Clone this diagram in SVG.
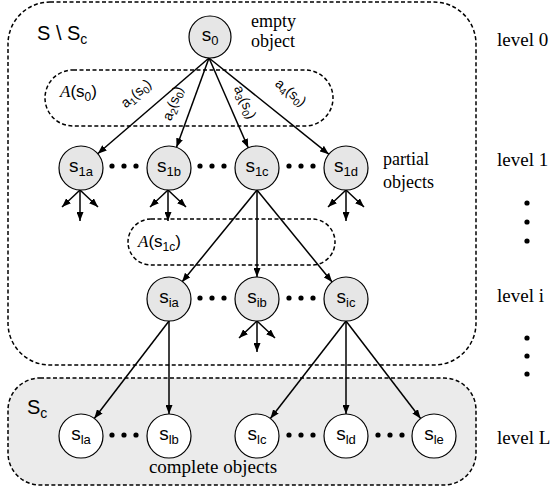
<svg xmlns="http://www.w3.org/2000/svg" width="551" height="490" viewBox="0 0 551 490">
<style>
.box{fill:none;stroke:#000;stroke-width:1.5;stroke-dasharray:4 2.5}
.node{stroke:#000;stroke-width:1.2}
.g{fill:#e6e6e6}
.w{fill:#fff}
.lbl{font-family:"Liberation Sans",Arial,sans-serif;font-size:19px;text-anchor:middle;fill:#000}
.sub{font-size:13px}
.lev{font-family:"Liberation Serif","Times New Roman",serif;font-size:19px;fill:#000}
.sans{font-family:"Liberation Sans",Arial,sans-serif;fill:#000}
.edge{stroke:#000;stroke-width:1.5;fill:none;marker-end:url(#ah)}
.dot{fill:#000}
</style>
<defs>
<marker id="ah" markerUnits="userSpaceOnUse" markerWidth="9" markerHeight="7" refX="9" refY="3.5" orient="auto">
<path d="M0,0 L9,3.5 L0,7 z" fill="#000"/>
</marker>
</defs>

<g id="region-S-minus-Sc">
<rect class="box" x="8" y="2" width="468" height="363" rx="42"/>
<text class="sans" x="37" y="40" font-size="20">S \ S<tspan font-size="14" dy="4">c</tspan></text>
</g>
<g id="region-Sc">
<rect class="box" x="8" y="378" width="468" height="107" rx="32" style="fill:#ebebeb"/>
<text class="sans" x="27" y="414" font-size="20">S<tspan font-size="14" dy="4">c</tspan></text>
<text class="lev" x="213" y="473" text-anchor="middle" style="font-size:19px">complete objects</text>
</g>
<g id="A-s0">
<rect class="box" x="45" y="70" width="288" height="56" rx="28"/>
<text class="sans" x="60" y="97" font-size="17"><tspan font-family="Liberation Serif,serif" font-style="italic">A</tspan>(s<tspan font-size="12" dy="4">0</tspan><tspan dy="-4">)</tspan></text>
</g>
<g id="A-s1c">
<rect class="box" x="128" y="219" width="207" height="46" rx="23"/>
<text class="sans" x="138" y="247" font-size="17"><tspan font-family="Liberation Serif,serif" font-style="italic">A</tspan>(s<tspan font-size="12" dy="4">1c</tspan><tspan dy="-4">)</tspan></text>
</g>

<g id="connectors">
<line class="edge" x1="209" y1="58" x2="97.7" y2="153.7"/>
<line class="edge" x1="209" y1="58" x2="176.5" y2="147.3"/>
<line class="edge" x1="209" y1="58" x2="248.2" y2="147.8"/>
<line class="edge" x1="209" y1="58" x2="328.8" y2="154.2"/>
<line class="edge" x1="257" y1="190" x2="182" y2="282"/>
<line class="edge" x1="257" y1="190" x2="257" y2="277"/>
<line class="edge" x1="257" y1="190" x2="332.1" y2="282"/>
<line class="edge" x1="169" y1="321" x2="94.3" y2="418.5"/>
<line class="edge" x1="169" y1="321" x2="169" y2="414"/>
<line class="edge" x1="346" y1="321" x2="270.4" y2="418.5"/>
<line class="edge" x1="346" y1="321" x2="346" y2="414"/>
<line class="edge" x1="346" y1="321" x2="420.6" y2="418.5"/>
<line class="edge" x1="80" y1="190" x2="62" y2="207"/>
<line class="edge" x1="80" y1="190" x2="80" y2="221"/>
<line class="edge" x1="80" y1="190" x2="98" y2="207"/>
<line class="edge" x1="168" y1="190" x2="150" y2="207"/>
<line class="edge" x1="168" y1="190" x2="168" y2="221"/>
<line class="edge" x1="168" y1="190" x2="186" y2="207"/>
<line class="edge" x1="346" y1="190" x2="328" y2="207"/>
<line class="edge" x1="346" y1="190" x2="346" y2="221"/>
<line class="edge" x1="346" y1="190" x2="364" y2="207"/>
<line class="edge" x1="257" y1="321" x2="239" y2="338"/>
<line class="edge" x1="257" y1="321" x2="257" y2="352"/>
<line class="edge" x1="257" y1="321" x2="275" y2="338"/>
<text class="sans" font-size="14" text-anchor="middle" transform="translate(139,97) rotate(-40.7)">a<tspan font-size="10" dy="3">1</tspan><tspan dy="-3">(s</tspan><tspan font-size="10" dy="3">0</tspan><tspan dy="-3">)</tspan></text>
<text class="sans" font-size="14" text-anchor="middle" transform="translate(177,105) rotate(-70)">a<tspan font-size="10" dy="3">2</tspan><tspan dy="-3">(s</tspan><tspan font-size="10" dy="3">0</tspan><tspan dy="-3">)</tspan></text>
<text class="sans" font-size="14" text-anchor="middle" transform="translate(241,104) rotate(66)">a<tspan font-size="10" dy="3">3</tspan><tspan dy="-3">(s</tspan><tspan font-size="10" dy="3">0</tspan><tspan dy="-3">)</tspan></text>
<text class="sans" font-size="14" text-anchor="middle" transform="translate(288,96) rotate(38.8)">a<tspan font-size="10" dy="3">4</tspan><tspan dy="-3">(s</tspan><tspan font-size="10" dy="3">0</tspan><tspan dy="-3">)</tspan></text>
</g>

<g id="s0"><circle class="node g" cx="210" cy="37" r="21"/><text class="lbl" x="210" y="41">s<tspan class="sub" dy="4">0</tspan></text>
<text class="lev" x="251" y="27" style="font-size:18px">empty</text><text class="lev" x="251" y="47" style="font-size:18px">object</text></g>

<g id="s1a"><circle class="node g" cx="81" cy="168" r="22"/><text class="lbl" x="81" y="172">s<tspan class="sub" dy="4">1a</tspan></text></g>
<g id="s1b"><circle class="node g" cx="169" cy="168" r="22"/><text class="lbl" x="169" y="172">s<tspan class="sub" dy="4">1b</tspan></text></g>
<g id="s1c"><circle class="node g" cx="257" cy="168" r="22"/><text class="lbl" x="257" y="172">s<tspan class="sub" dy="4">1c</tspan></text></g>
<g id="s1d"><circle class="node g" cx="346" cy="168" r="22"/><text class="lbl" x="346" y="172">s<tspan class="sub" dy="4">1d</tspan></text>
<text class="lev" x="383" y="165" style="font-size:18px">partial</text><text class="lev" x="383" y="188" style="font-size:18px">objects</text></g>

<g id="sia"><circle class="node g" cx="169" cy="299" r="22"/><text class="lbl" x="169" y="303">s<tspan class="sub" dy="4">ia</tspan></text></g>
<g id="sib"><circle class="node g" cx="257" cy="299" r="22"/><text class="lbl" x="257" y="303">s<tspan class="sub" dy="4">ib</tspan></text></g>
<g id="sic"><circle class="node g" cx="346" cy="299" r="22"/><text class="lbl" x="346" y="303">s<tspan class="sub" dy="4">ic</tspan></text></g>

<g id="sla"><circle class="node w" cx="81" cy="436" r="22"/><text class="lbl" x="81" y="440">s<tspan class="sub" dy="4">la</tspan></text></g>
<g id="slb"><circle class="node w" cx="169" cy="436" r="22"/><text class="lbl" x="169" y="440">s<tspan class="sub" dy="4">lb</tspan></text></g>
<g id="slc"><circle class="node w" cx="257" cy="436" r="22"/><text class="lbl" x="257" y="440">s<tspan class="sub" dy="4">lc</tspan></text></g>
<g id="sld"><circle class="node w" cx="346" cy="436" r="22"/><text class="lbl" x="346" y="440">s<tspan class="sub" dy="4">ld</tspan></text></g>
<g id="sle"><circle class="node w" cx="434" cy="436" r="22"/><text class="lbl" x="434" y="440">s<tspan class="sub" dy="4">le</tspan></text></g>

<g id="ellipses">
<circle class="dot" cx="112" cy="166" r="2.6"/><circle class="dot" cx="124" cy="166" r="2.6"/><circle class="dot" cx="136" cy="166" r="2.6"/>
<circle class="dot" cx="200" cy="166" r="2.6"/><circle class="dot" cx="212" cy="166" r="2.6"/><circle class="dot" cx="224" cy="166" r="2.6"/>
<circle class="dot" cx="289" cy="166" r="2.6"/><circle class="dot" cx="301" cy="166" r="2.6"/><circle class="dot" cx="313" cy="166" r="2.6"/>
<circle class="dot" cx="200" cy="298" r="2.6"/><circle class="dot" cx="212" cy="298" r="2.6"/><circle class="dot" cx="224" cy="298" r="2.6"/>
<circle class="dot" cx="289" cy="298" r="2.6"/><circle class="dot" cx="301" cy="298" r="2.6"/><circle class="dot" cx="313" cy="298" r="2.6"/>
<circle class="dot" cx="112" cy="435" r="2.6"/><circle class="dot" cx="124" cy="435" r="2.6"/><circle class="dot" cx="136" cy="435" r="2.6"/>
<circle class="dot" cx="289" cy="435" r="2.6"/><circle class="dot" cx="301" cy="435" r="2.6"/><circle class="dot" cx="313" cy="435" r="2.6"/>
<circle class="dot" cx="378" cy="435" r="2.6"/><circle class="dot" cx="390" cy="435" r="2.6"/><circle class="dot" cx="402" cy="435" r="2.6"/>
<circle class="dot" cx="527" cy="203" r="2.6"/><circle class="dot" cx="527" cy="222" r="2.6"/><circle class="dot" cx="527" cy="241" r="2.6"/>
<circle class="dot" cx="527" cy="338" r="2.6"/><circle class="dot" cx="527" cy="356" r="2.6"/><circle class="dot" cx="527" cy="374" r="2.6"/>
</g>

<g id="levels">
<text class="lev" x="497" y="46">level 0</text>
<text class="lev" x="497" y="166">level 1</text>
<text class="lev" x="497" y="302">level i</text>
<text class="lev" x="497" y="444">level L</text>
</g>
</svg>
